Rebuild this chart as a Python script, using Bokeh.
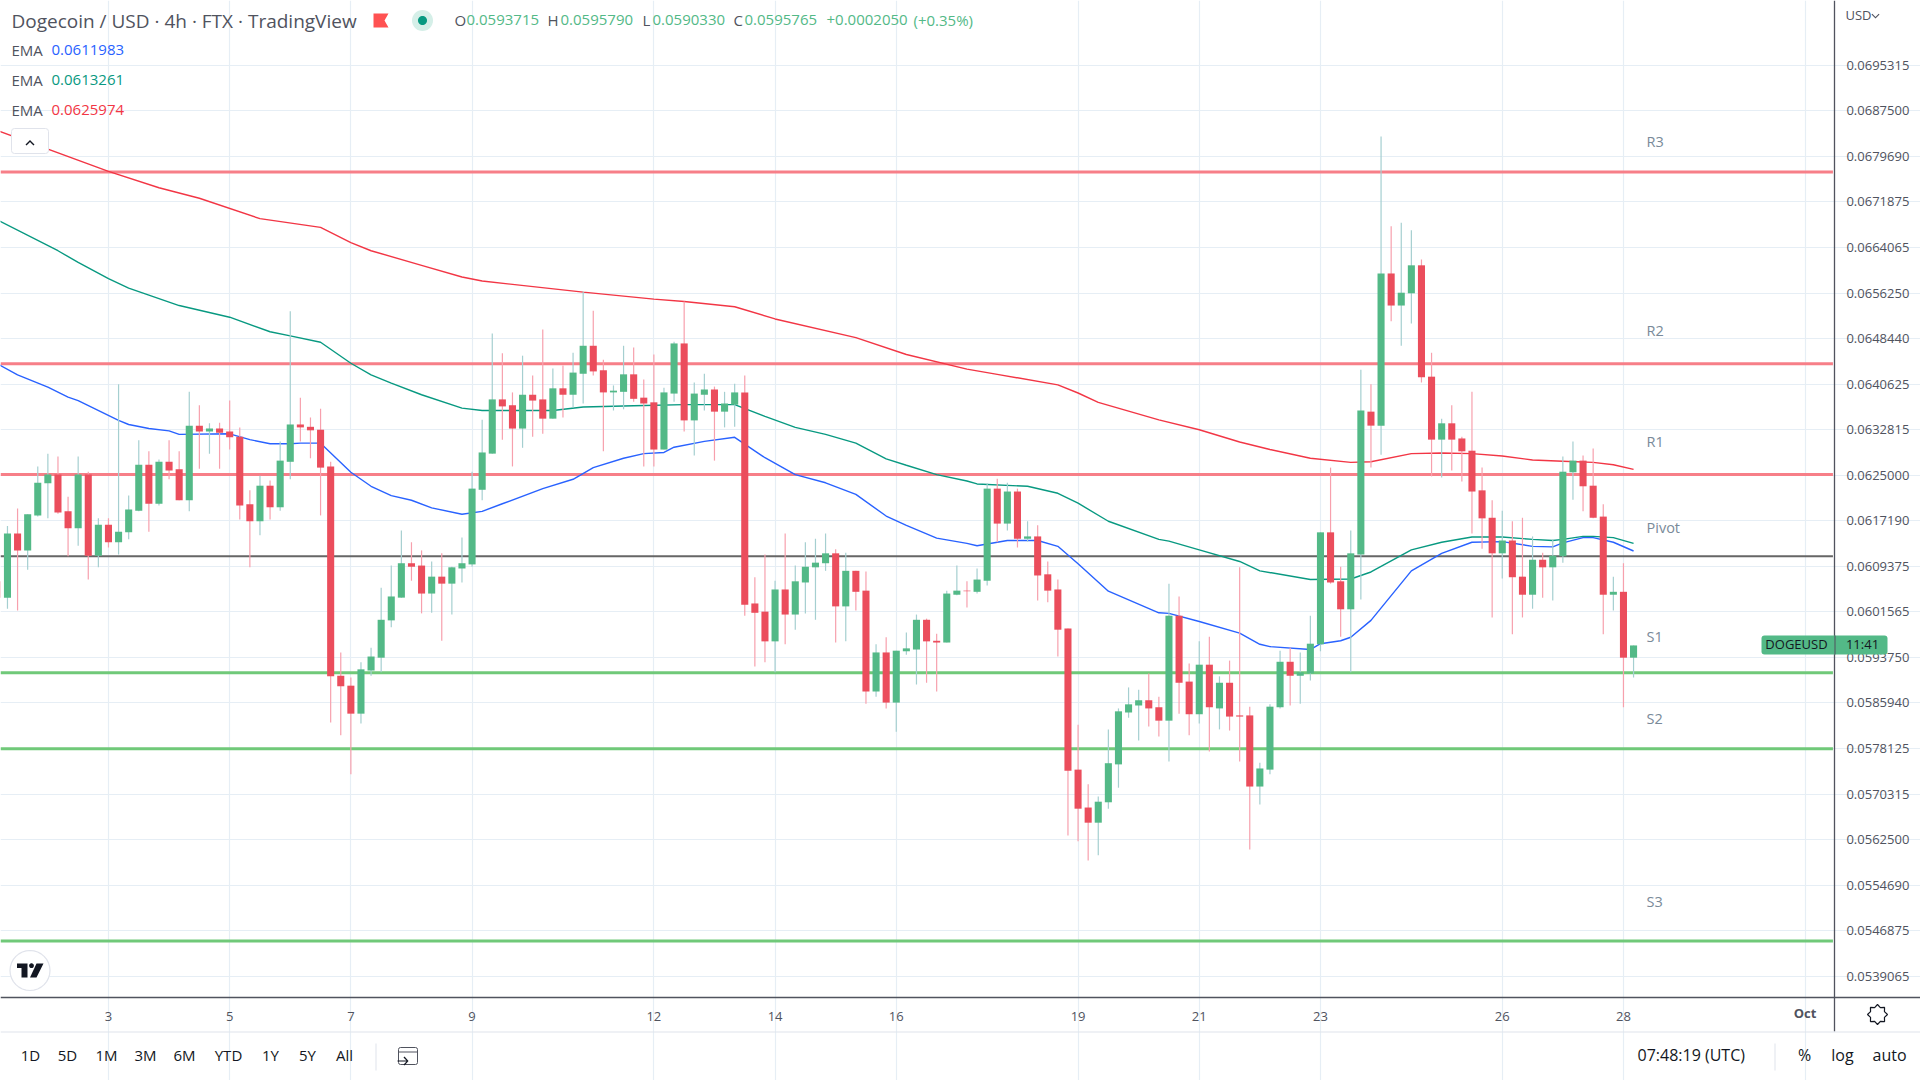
import math
from bokeh.embed import file_html
from bokeh.resources import INLINE
from bokeh.plotting import figure
from bokeh.models import (BoxAnnotation, ColumnDataSource, FixedTicker, Label,
                          NumeralTickFormatter, PolyAnnotation, Range1d)

# ---------- data (prices in USD) ----------
first_candle = -11   # candle number relative to the 00:00 candle of the 3rd (4h candles)

high_vals = [
 .06078,.06163,.06193,.06183,.06265,.06287,.06282,.06213,.06282,.06256,.06176,
 .06176,.06406,.06215,.06310,.06291,.06277,.06310,.06291,.06393,.06370,
 .06339,.06340,.06378,.06332,.06224,.06249,.06241,.06308,.06531,.06383,
 .06349,.06364,.06273,.05946,.05903,.05929,.05954,.06057,.06095,.06155,
 .06135,.06121,.06102,.06116,.06093,.06143,.06256,.06345,.06493,.06459,
 .06392,.06455,.06421,.06500,.06433,.06438,.06460,.06565,.06532,.06448,
 .06404,.06472,.06469,.06414,.06457,.06400,.06479,.06548,.06409,.06424,
 .06402,.06393,.06407,.06421,.06075,.06114,.06069,.06150,.06095,.06135,
 .06141,.06150,.06123,.06117,.06086,.06085,.05960,.05972,.05949,.05980,
 .06011,.06004,.05978,.06052,.06095,.06068,.06090,.06236,.06244,.06237,
 .06227,.06171,.06164,.06102,.06071,.05987,.05822,.05720,.05699,.05814,
 .05850,.05886,.05882,.05910,.05870,.06064,.06042,.05927,.05965,.05973,
 .05905,.05932,.06092,.05853,.05757,.05857,.05949,.05954,.05946,.06009,
 .06152,.06263,.06093,.06155,.06431,.06406,.06831,.06677,.06683,.06670,
 .06620,.06460,.06347,.06370,.06316,.06393,.06263,.06207,.06189,.06171,
 .06177,.06145,.06117,.06140,.06282,.06308,.06284,.06296,.06200,.06076,
 .06099,.05958]

low_vals = [
 .06035,.06021,.06018,.06088,.06179,.06176,.06184,.06111,.06129,.06071,.06092,
 .06126,.06114,.06140,.06188,.06153,.06198,.06243,.06207,.06188,.06261,
 .06287,.06261,.06294,.06174,.06092,.06147,.06174,.06189,.06243,.06308,
 .06279,.06181,.05826,.05804,.05737,.05824,.05906,.05912,.05989,.06040,
 .06069,.06013,.06014,.05966,.06011,.06066,.06093,.06207,.06287,.06311,
 .06265,.06297,.06316,.06321,.06347,.06349,.06366,.06373,.06421,.06291,
 .06361,.06363,.06376,.06265,.06265,.06294,.06376,.06325,.06284,.06361,
 .06275,.06332,.06333,.06009,.05922,.05929,.05912,.05960,.05985,.06013,
 .06002,.06086,.05963,.05965,.06018,.05858,.05870,.05850,.05810,.05942,
 .05891,.05894,.05879,.05963,.06044,.06023,.06047,.06061,.06135,.06155,
 .06126,.06136,.06035,.06032,.05939,.05632,.05622,.05589,.05598,.05678,
 .05714,.05834,.05795,.05819,.05802,.05759,.05841,.05804,.05824,.05776,
 .05814,.05812,.05759,.05608,.05685,.05737,.05850,.05855,.05858,.05898,
 .05948,.06064,.05973,.05912,.06037,.06263,.06285,.06514,.06472,.06510,
 .06409,.06248,.06246,.06258,.06239,.06150,.06124,.06006,.06073,.05977,
 .06006,.06021,.06040,.06035,.06100,.06208,.06188,.06176,.05977,.06018,
 .05852,.05903]

open_vals = [
 .06068,.06040,.06150,.06121,.06181,.06236,.06251,.06188,.06159,.06251,.06112,
 .06165,.06135,.06152,.06189,.06268,.06201,.06273,.06260,.06207,.06335,
 .06325,.06330,.06325,.06316,.06200,.06171,.06232,.06195,.06273,.06337,
 .06333,.06328,.06265,.05906,.05889,.05841,.05915,.05937,.06001,.06040,
 .06099,.06095,.06047,.06076,.06064,.06090,.06097,.06225,.06287,.06380,
 .06370,.06330,.06388,.06380,.06347,.06399,.06388,.06424,.06472,.06430,
 .06392,.06393,.06423,.06383,.06375,.06294,.06390,.06476,.06344,.06388,
 .06397,.06359,.06371,.06392,.06030,.06016,.05965,.06054,.06011,.06066,
 .06092,.06099,.06116,.06025,.06086,.06052,.05879,.05946,.05860,.05948,
 .05951,.06002,.05966,.05963,.06045,.06052,.06050,.06069,.06227,.06167,
 .06222,.06141,.06145,.06080,.06054,.05987,.05745,.05680,.05654,.05689,
 .05754,.05843,.05855,.05864,.05852,.05829,.06009,.05896,.05840,.05925,
 .05850,.05894,.05838,.05838,.05716,.05745,.05852,.05930,.05906,.05910,
 .05960,.06152,.06068,.06020,.06114,.06359,.06335,.06596,.06541,.06562,
 .06610,.06419,.06311,.06339,.06313,.06292,.06224,.06177,.06116,.06138,
 .06076,.06045,.06105,.06092,.06111,.06255,.06275,.06232,.06179,.06045,
 .06050,.05937]

close_vals = [
 .06040,.06150,.06121,.06183,.06237,.06251,.06186,.06159,.06251,.06112,.06165,
 .06135,.06153,.06191,.06268,.06201,.06273,.06258,.06207,.06335,.06325,
 .06330,.06323,.06315,.06198,.06171,.06232,.06195,.06275,.06337,.06332,
 .06327,.06263,.05905,.05888,.05841,.05917,.05939,.06002,.06042,.06099,
 .06093,.06047,.06076,.06064,.06092,.06099,.06227,.06289,.06380,.06368,
 .06330,.06388,.06378,.06347,.06399,.06388,.06426,.06472,.06428,.06392,
 .06395,.06423,.06381,.06373,.06294,.06392,.06476,.06344,.06390,.06397,
 .06359,.06373,.06392,.06028,.06014,.05965,.06054,.06011,.06068,.06093,
 .06100,.06116,.06025,.06086,.06050,.05879,.05946,.05860,.05949,.05953,
 .06002,.05965,.05963,.06047,.06052,.06051,.06071,.06227,.06167,.06222,
 .06141,.06145,.06078,.06052,.05985,.05743,.05678,.05654,.05690,.05756,
 .05845,.05857,.05864,.05850,.05829,.06009,.05894,.05840,.05925,.05852,
 .05894,.05836,.05836,.05716,.05747,.05853,.05930,.05906,.05912,.05961,
 .06152,.06066,.06020,.06116,.06361,.06335,.06596,.06541,.06563,.06610,
 .06418,.06311,.06339,.06311,.06291,.06222,.06176,.06116,.06138,.06075,
 .06045,.06105,.06092,.06112,.06256,.06275,.06231,.06177,.06045,.06050,
 .05937,.05958]

ema_red_i = [-11,0,5,9,15,21,24,26,31,35,37,47,54,57,62,66,74,79,85,88,94,96,98,104,108,112,115,119,123,125,129,132,135,138,141,144,147,149,151]
ema_red = [.06841,.06771,.06743,.06725,.06690,.06675,.06649,.06635,.06610,.06590,.06583,.06564,.06552,.06548,.06539,.06518,.06486,.06457,.06432,.06423,.06405,.06391,.06375,.06345,.06328,.06307,.06294,.06279,.06272,.06273,.06287,.06288,.06287,.06283,.06276,.06274,.06272,.06268,.06260]

ema_green_i = [-11,-5,-3,0,2,7,12,16,18,21,24,26,28,31,35,37,44,47,52,57,62,65,68,71,74,77,79,82,85,86,91,94,96,99,104,105,108,112,114,119,123,125,129,132,135,138,141,143,144,146,147,149,151]
ema_green = [.06688,.06635,.06615,.06587,.06571,.06541,.06521,.06496,.06489,.06478,.06442,.06422,.06408,.06388,.06365,.06361,.06361,.06367,.06369,.06371,.06371,.06351,.06332,.06320,.06305,.06278,.06267,.06251,.06240,.06235,.06231,.06219,.06202,.06171,.06140,.06137,.06122,.06102,.06086,.06071,.06072,.06084,.06122,.06135,.06144,.06144,.06140,.06138,.06140,.06145,.06145,.06143,.06133]

ema_blue_i = [-11,-9,-6,-4,-3,1,2,4,6,7,12,14,16,18,19,21,24,26,28,30,32,35,37,39,43,46,48,51,53,55,56,59,62,65,68,71,74,77,79,82,85,86,89,92,94,96,99,104,105,108,112,114,115,119,120,122,123,125,129,132,135,138,141,143,144,146,147,149,151]
ema_blue = [.06441,.06422,.06401,.06384,.06378,.06344,.06337,.06330,.06326,.06320,.06321,.06311,.06304,.06304,.06305,.06305,.06255,.06231,.06215,.06207,.06194,.06183,.06188,.06201,.06227,.06243,.06263,.06279,.06287,.06289,.06298,.06308,.06315,.06280,.06251,.06237,.06217,.06180,.06164,.06142,.06133,.06129,.06138,.06138,.06128,.06098,.06051,.06014,.06013,.05999,.05979,.05960,.05956,.05951,.05961,.05966,.05972,.06001,.06086,.06116,.06135,.06136,.06128,.06127,.06134,.06143,.06143,.06135,.06120]

level_names = ["R3", "R2", "R1", "Pivot", "S1", "S2", "S3"]
level_vals = [.06770, .06441, .06251, .06111, .05911, .05781, .05451]
level_colors = ["#f77f88", "#f77f88", "#f77f88", "#666666", "#70c979", "#70c979", "#70c979"]
level_label_y = [142, 331, 442, 528, 637, 719, 902]

price_ticks = [.0695315,.0687500,.0679690,.0671875,.0664065,.0656250,.0648440,.0640625,.0632815,.0625000,.0617190,
               .0609375,.0601565,.0593750,.0585940,.0578125,.0570315,.0562500,.0554690,.0546875,.0539065]
day_ticks = [0, 12, 24, 36, 54, 66, 78, 96, 108, 120, 138, 150, 168]
day_labels = ["3", "5", "7", "9", "12", "14", "16", "19", "21", "23", "26", "28", ""]

range_buttons = ["1D", "5D", "1M", "3M", "6M", "YTD", "1Y", "5Y", "All"]
range_button_x = [30, 67, 106, 145, 184, 228, 270, 307, 344]

# ---------- figure ----------
FONT = "Open Sans"
GRID = "#e6eef5"
AXIS = "#50535e"
UP, DOWN = "#53b987", "#eb4d5c"
UP_WICK, DOWN_WICK = "#a5cfd0", "#f7a0ad"
W, H = 1920, 1080

XMIN, XMAX = -10.69, 179.41
YMIN, YMAX = 0.052118, 0.070642
X_EDGE = 170.89     # the price axis
Y_EDGE = 0.053542   # the time axis

p = figure(width=W, height=H, output_backend="svg", toolbar_location=None,
           x_range=Range1d(XMIN, XMAX), y_range=Range1d(YMIN, YMAX),
           y_axis_location="right", min_border=0, outline_line_color=None,
           background_fill_color="white", border_fill_color="white")

p.xgrid.ticker = FixedTicker(ticks=day_ticks)
p.ygrid.ticker = FixedTicker(ticks=price_ticks)
p.xgrid.bounds = (Y_EDGE, YMAX)
p.ygrid.bounds = (XMIN, X_EDGE)
p.grid.grid_line_color = GRID
p.grid.grid_line_width = 1.2

ax = p.xaxis[0]
ax.ticker = FixedTicker(ticks=day_ticks)
ax.major_label_overrides = dict(zip(day_ticks, day_labels))
ax.fixed_location = Y_EDGE
ay = p.yaxis[0]
ay.ticker = FixedTicker(ticks=price_ticks)
ay.formatter = NumeralTickFormatter(format="0.0000000")
ay.fixed_location = X_EDGE
ay.bounds = (0.05296, YMAX)
for a in (ax, ay):
    a.major_tick_line_color = None
    a.minor_tick_line_color = None
    a.axis_line_color = AXIS
    a.axis_line_width = 1.3
    a.major_label_text_color = AXIS
    a.major_label_text_font = FONT
    a.major_label_text_font_size = "13px"
ax.major_label_standoff = 9
ay.major_label_standoff = 6

# pivot levels
xs0 = [XMIN] * len(level_vals)
xs1 = [X_EDGE - 0.15] * len(level_vals)
p.segment(x0=xs0, y0=level_vals, x1=xs1, y1=level_vals, line_color=level_colors,
          line_width=[3, 3, 3, 2, 3, 3, 3])

# EMAs
p.line(ema_red_i, ema_red, line_color="#f23645", line_width=1.4)
p.line(ema_green_i, ema_green, line_color="#089981", line_width=1.4)
p.line(ema_blue_i, ema_blue, line_color="#2962ff", line_width=1.4)

# candles
idx = list(range(first_candle, first_candle + len(open_vals)))
src = ColumnDataSource(dict(
    x=idx, high=high_vals, low=low_vals,
    top=[max(o, c) for o, c in zip(open_vals, close_vals)],
    bottom=[min(o, c) for o, c in zip(open_vals, close_vals)],
    body=[UP if c >= o else DOWN for o, c in zip(open_vals, close_vals)],
    wick=[UP_WICK if c >= o else DOWN_WICK for o, c in zip(open_vals, close_vals)],
))
p.segment(x0="x", x1="x", y0="low", y1="high", line_color="wick", line_width=1.2, source=src)
p.vbar(x="x", top="top", bottom="bottom", width=0.7, fill_color="body", line_color=None, source=src)


# ---------- chrome, placed in page pixels ----------
def lab(text, px, py, size, color, align="left", style="normal", font=FONT):
    p.add_layout(Label(x=px, y=H - py + 1.3, x_units="screen", y_units="screen", text=text,
                       text_font=font, text_font_size=f"{size}px", text_color=color,
                       text_align=align, text_baseline="middle", text_font_style=style))


def box(x0, y0, x1, y1, fill, line=None, radius=0):
    p.add_layout(BoxAnnotation(left=x0, right=x1, top=H - y0, bottom=H - y1,
                               left_units="screen", right_units="screen",
                               top_units="screen", bottom_units="screen",
                               fill_color=fill, fill_alpha=1 if fill else 0,
                               line_color=line, line_alpha=1 if line else 0,
                               border_radius=radius))


def poly(pts, fill, line=None):
    p.add_layout(PolyAnnotation(xs=[a for a, _ in pts], ys=[H - b for _, b in pts],
                                xs_units="screen", ys_units="screen",
                                fill_color=fill or "white", fill_alpha=1 if fill else 0,
                                line_color=line or "white", line_alpha=1 if line else 0,
                                line_width=1.2))


def disc(cx, cy, r, fill, line=None):
    poly([(cx + r * math.cos(k * math.pi / 16), cy + r * math.sin(k * math.pi / 16)) for k in range(32)], fill, line)


# strips outside the plotting area
box(0, 1031, W, 1032, "#e0e3eb")
box(375, 1043, 376, 1070, "#e0e3eb")
box(1774, 1043, 1775, 1070, "#e0e3eb")

# header
HEAD = "#50535e"
lab("Dogecoin / USD · 4h · FTX · TradingView", 11, 22, 19, HEAD)
poly([(373, 13), (388, 13), (384, 20), (388, 27), (373, 27)], "#ff5252")
disc(422, 20, 10.5, "#d5efe8")
disc(422, 20, 4.5, "#089981")
for letter, lx, value, vx in [("O", 454, "0.0593715", 466), ("H", 547, "0.0595790", 560),
                              ("L", 642, "0.0590330", 652), ("C", 733, "0.0595765", 744)]:
    lab(letter, lx, 21, 15, HEAD)
    lab(value, vx, 21, 15, "#53b987")
lab("+0.0002050", 826, 21, 15, "#53b987")
lab("(+0.35%)", 913, 21, 15, "#53b987")

for py, value, color in [(51, "0.0611983", "#2962ff"), (81, "0.0613261", "#089981"), (111, "0.0625974", "#f23645")]:
    lab("EMA", 11, py, 15, HEAD)
    lab(value, 51, py, 15, color)

box(11, 128, 48, 153, "white", "#e0e3eb", 3)
poly([(25, 144), (29.5, 139.5), (34, 144), (33, 145), (29.5, 141.5), (26, 145)], "#131722")

# level labels
for name, ly in zip(level_names, level_label_y):
    lab(name, 1646, ly, 14.5, "#7a8a99")

# logo
disc(29.5, 970, 20, "white", "#e0e3eb")
poly([(16.5, 963), (27, 963), (27, 977), (21, 977), (21, 967.5), (16.5, 967.5)], "#131722")
disc(31, 965.2, 2.4, "#131722")
poly([(36, 963), (43, 963), (36, 977), (29.5, 977)], "#131722")

# axis extras
lab("USD", 1845, 16, 13, AXIS)
poly([(1871, 14), (1875, 18), (1879, 14), (1878.2, 13.2), (1875, 16.4), (1871.8, 13.2)], AXIS)
lab("Oct", 1804.5, 1014, 13, AXIS, "center", "bold")
poly([(1877 + (10 if k % 2 == 0 else 7.5) * math.cos(k * math.pi / 8),
       1014 + (10 if k % 2 == 0 else 7.5) * math.sin(k * math.pi / 8)) for k in range(16)], None, "#131722")

# price tag
box(1761, 635, 1887, 654, UP, None, 3)
box(1834, 635, 1835, 654, AXIS)
lab("DOGEUSD", 1796, 645, 13, "#131722", "center")
lab("11:41", 1862, 645, 13, "#131722", "center")

# footer
for text, bx in zip(range_buttons, range_button_x):
    lab(text, bx, 1056, 15, "#131722", "center")
box(398, 1047, 417, 1064, None, "#50535e", 2)
box(398, 1051, 417, 1052, "#50535e")
poly([(397, 1060), (406, 1060), (403, 1057), (404, 1056), (408, 1060.5), (404, 1065), (403, 1064), (406, 1061), (397, 1061)], "#131722")
lab("07:48:19 (UTC)", 1637, 1056, 16, "#131722")
lab("%", 1804, 1056, 16, "#131722", "center")
lab("log", 1842, 1056, 16, "#131722", "center")
lab("auto", 1889, 1056, 16, "#131722", "center")

open("out.html", "w").write(file_html(p, INLINE))
